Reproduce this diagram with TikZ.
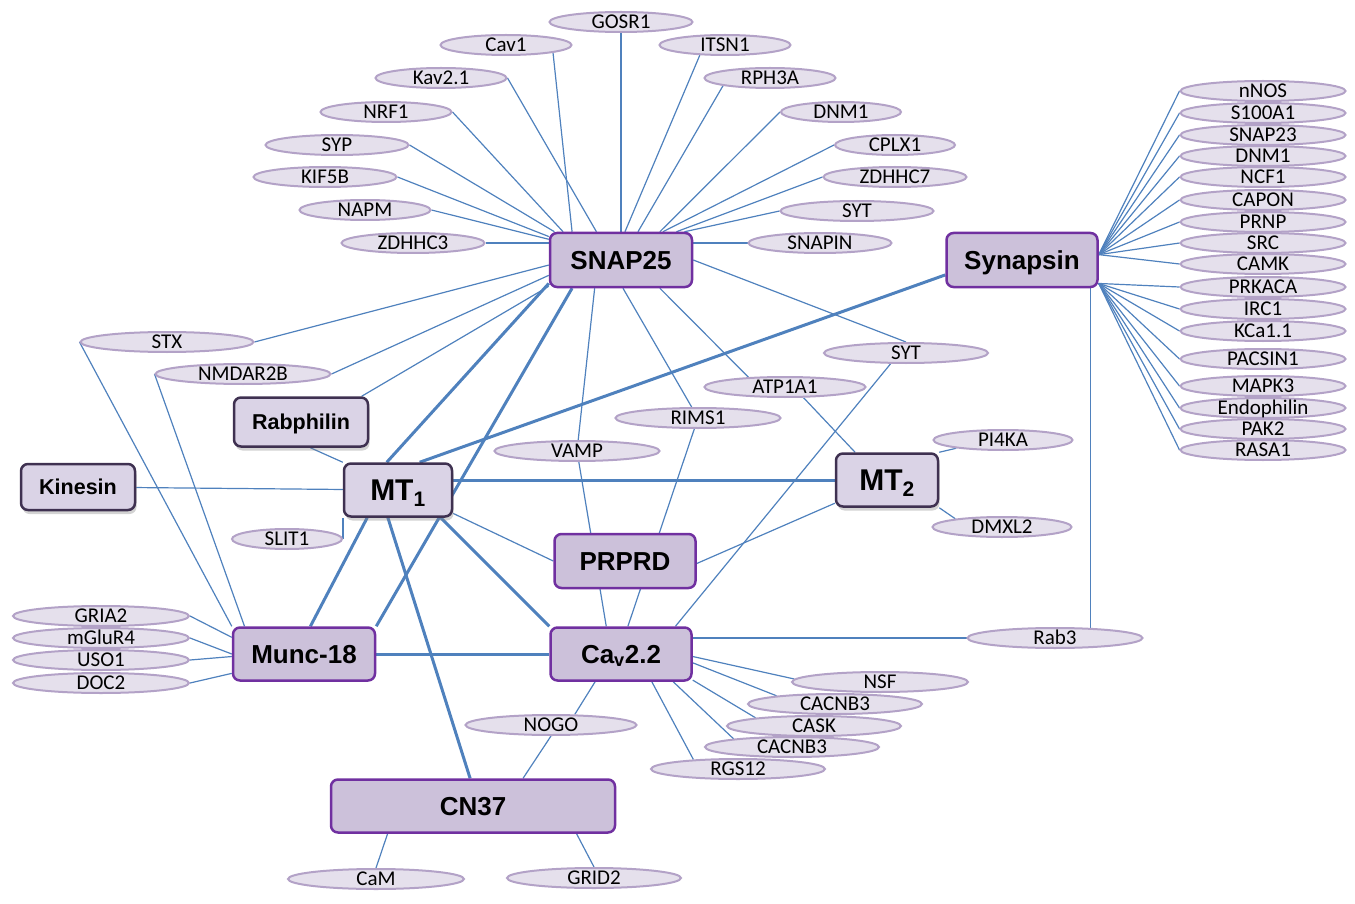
\documentclass[tikz,border=0pt]{standalone}
\usepackage{fontspec}
\setmainfont{Carlito}
\newfontfamily\arialfont{Liberation Sans}
\usetikzlibrary{shapes.geometric,shadows}

\definecolor{hubfill}{HTML}{CCC1DA}
\definecolor{hubline}{HTML}{7030A0}
\definecolor{darkfill}{HTML}{DAD3E6}
\definecolor{darkline}{HTML}{3F3151}
\definecolor{genefill}{HTML}{E5E0EC}
\definecolor{geneline}{HTML}{B3A2C7}
\definecolor{linkblue}{HTML}{4F81BD}

\pgfdeclarelayer{background}
\pgfsetlayers{background,main}

\begin{document}
\begin{tikzpicture}[
      x=1pt, y=-1pt,
      gene/.style={ellipse, draw=geneline, line width=2pt, fill=genefill,
                   inner sep=0pt, minimum height=20pt, text height=13.5pt,
                   text depth=0pt, font=\fontsize{21}{24}\selectfont},
      hub/.style={draw=hubline, line width=2.5pt, fill=hubfill,
                  rounded corners=7pt, inner sep=0pt, text height=18.5pt,
                  text depth=0pt, font=\arialfont\bfseries\fontsize{26}{30}\selectfont},
      darkhub/.style={hub, draw=darkline, fill=darkfill,
                  drop shadow={opacity=0.35, shadow xshift=1.5pt, shadow yshift=-4pt}},
      small/.style={text height=15.4pt, font=\arialfont\bfseries\fontsize{21.5}{25}\selectfont},
      big/.style={text height=21.5pt, font=\arialfont\bfseries\fontsize{30}{34}\selectfont},
      link/.style={draw=linkblue, line width=1.2pt},
      strong/.style={draw=linkblue, line width=3pt}
    ]
    \useasboundingbox (0,0) rectangle (1355,904);

    % main proteins
    \node[hub, minimum width=142pt, minimum height=54pt] (snap) at (621,260) {SNAP25};
    \node[hub, minimum width=151pt, minimum height=54pt] (syn)  at (1022,260) {Synapsin};
    \node[darkhub, small, minimum width=134pt, minimum height=49pt] (rab) at (301,422) {Rabphilin};
    \node[darkhub, small, minimum width=114pt, minimum height=46pt] (kin) at (78,487) {Kinesin};
    \node[darkhub, big, minimum width=108pt, minimum height=53pt] (mt1) at (398,490) {MT\textsubscript{1}};
    \node[darkhub, big, minimum width=102pt, minimum height=53pt] (mt2) at (887,480) {MT\textsubscript{2}};
    \node[hub, minimum width=141pt, minimum height=54pt] (prp)  at (625,561) {PRPRD};
    \node[hub, minimum width=142pt, minimum height=53pt] (munc) at (304,654) {Munc-18};
    \node[hub, minimum width=141pt, minimum height=53pt] (cav)  at (621,654) {Ca\textsubscript{v}2.2};
    \node[hub, minimum width=284pt, minimum height=53pt] (cn)   at (473,806) {CN37};

    % SNAP25 partners
    \node[gene, minimum width=143pt] (gosr)   at (621,22)  {GOSR1};
    \node[gene, minimum width=131pt] (cav1)   at (506,45)  {Cav1};
    \node[gene, minimum width=131pt] (itsn)   at (725,45)  {ITSN1};
    \node[gene, minimum width=131pt] (kav)    at (441,78)  {Kav2.1};
    \node[gene, minimum width=131pt] (rph)    at (770,78)  {RPH3A};
    \node[gene, minimum width=131pt] (nrf)    at (386,112) {NRF1};
    \node[gene, minimum width=120pt] (dnm)    at (841,112) {DNM1};
    \node[gene, minimum width=143pt] (syp)    at (337,145) {SYP};
    \node[gene, minimum width=120pt] (cplx)   at (895,145) {CPLX1};
    \node[gene, minimum width=143pt] (kif)    at (325,177) {KIF5B};
    \node[gene, minimum width=143pt] (zd7)    at (895,177) {ZDHHC7};
    \node[gene, minimum width=131pt] (napm)   at (365,210) {NAPM};
    \node[gene, minimum width=153pt] (syt)    at (857,211) {SYT};
    \node[gene, minimum width=143pt] (zd3)    at (413,243) {ZDHHC3};
    \node[gene, minimum width=143pt] (snapin) at (820,243) {SNAPIN};

    % middle partners
    \node[gene, minimum width=173pt] (stx)   at (167,342) {STX};
    \node[gene, minimum width=175pt] (nmdar) at (243,374) {NMDAR2B};
    \node[gene, minimum width=110pt] (slit)  at (287,539) {SLIT1};
    \node[gene, minimum width=165pt] (vamp)  at (577,451) {VAMP};
    \node[gene, minimum width=165pt] (rims)  at (698,418) {RIMS1};
    \node[gene, minimum width=161pt] (atp)   at (785,387) {ATP1A1};
    \node[gene, minimum width=164pt] (syt2)  at (906,353) {SYT};
    \node[gene, minimum width=139pt] (pi4)   at (1003,440) {PI4KA};
    \node[gene, minimum width=139pt] (dmx)   at (1002,527) {DMXL2};
    \node[gene, minimum width=175pt] (rab3)  at (1055,638) {Rab3};

    % Munc-18 partners
    \node[gene, minimum width=176pt] (gria) at (101,616) {GRIA2};
    \node[gene, minimum width=176pt] (mglu) at (101,638) {mGluR4};
    \node[gene, minimum width=176pt] (uso)  at (101,660) {USO1};
    \node[gene, minimum width=176pt] (doc)  at (101,683) {DOC2};

    % Cav2.2 and CN37 partners
    \node[gene, minimum width=176pt] (nsf)    at (880,682) {NSF};
    \node[gene, minimum width=174pt] (cacnba) at (835,704) {CACNB3};
    \node[gene, minimum width=174pt] (cask)   at (814,726) {CASK};
    \node[gene, minimum width=174pt] (cacnbb) at (792,747) {CACNB3};
    \node[gene, minimum width=174pt] (rgs)    at (738,769) {RGS12};
    \node[gene, minimum width=171pt] (nogo)   at (551,725) {NOGO};
    \node[gene, minimum width=176pt] (cam)    at (376,879) {CaM};
    \node[gene, minimum width=174pt] (grid)   at (594,878) {GRID2};

    % Synapsin partners
    \node[gene, minimum width=165pt] (nnos)   at (1263,91)  {nNOS};
    \node[gene, minimum width=165pt] (s100)   at (1263,113) {S100A1};
    \node[gene, minimum width=165pt] (snap23) at (1263,135) {SNAP23};
    \node[gene, minimum width=165pt] (dnmb)   at (1263,156) {DNM1};
    \node[gene, minimum width=165pt] (ncf)    at (1263,177) {NCF1};
    \node[gene, minimum width=165pt] (capon)  at (1263,200) {CAPON};
    \node[gene, minimum width=165pt] (prnp)   at (1263,222) {PRNP};
    \node[gene, minimum width=165pt] (src)    at (1263,243) {SRC};
    \node[gene, minimum width=165pt] (camk)   at (1263,264) {CAMK};
    \node[gene, minimum width=165pt] (prk)    at (1263,287) {PRKACA};
    \node[gene, minimum width=165pt] (irc)    at (1263,309) {IRC1};
    \node[gene, minimum width=165pt] (kca)    at (1263,331) {KCa1.1};
    \node[gene, minimum width=165pt] (pacsin) at (1263,359) {PACSIN1};
    \node[gene, minimum width=165pt] (mapk)   at (1263,386) {MAPK3};
    \node[gene, minimum width=165pt] (endo)   at (1263,408) {Endophilin};
    \node[gene, minimum width=165pt] (pak)    at (1263,429) {PAK2};
    \node[gene, minimum width=165pt] (rasa)   at (1263,450) {RASA1};

    \begin{pgfonlayer}{background}
    % SNAP25 links
    \draw[link] (gosr) -- (snap);
    \draw[link] (cav1.south east) -- (snap.150);
    \draw[link] (kav.east) -- (snap.131);
    \draw[link] (nrf.east) -- (snap.154);
    \draw[link] (syp.east) -- (snap.157);
    \draw[link] (kif.east) -- (snap.162);
    \draw[link] (napm.east) -- (snap.164);
    \draw[link] (zd3.east) -- (zd3.east -| snap.west);
    \draw[link] (itsn.202) -- (snap.82);
    \draw[link] (rph.south west) -- (snap.59);
    \draw[link] (dnm.west) -- (snap.36);
    \draw[link] (cplx.west) -- (snap.34);
    \draw[link] (zd7.west) -- (snap.27);
    \draw[link] (syt.west) -- (snap.24);
    \draw[link] (snapin.west) -- (snapin.west -| snap.east);
    \draw[link] (stx.east) -- (snap.184);
    \draw[link] (nmdar.east) -- (snap.192);
    \draw[link] (rab.23) -- (snap.200);
    \draw[link] (snap.227) -- (vamp);
    \draw[link] (snap.274) -- (rims);
    \draw[link] (snap.324) -- (atp.165);
    \draw[link] (snap.east) -- (syt2.north);
    \draw[strong] (mt1.112) -- (snap.198);
    \draw[strong] (munc.21) -- (snap.210);

    % MT1 links
    \draw[strong] (mt1.52) -- (syn.191);
    \draw[strong] (mt1.east |- mt2.west) -- (mt2.west);
    \draw[strong] (mt1.222) -- (munc.77);
    \draw[strong] (mt1.250) -- (cn.96);
    \draw[strong] (mt1.-33) -- (cav.north west);
    \draw[link] (kin) -- (mt1);
    \draw[link] (rab.290) -- (mt1.north west);
    \draw[link] (slit.east) -- (slit.east |- mt1.south);
    \draw[link] (mt1.-23) -- (prp.west);

    % MT2 links
    \draw[link] (atp.-30) -- (mt2.139);
    \draw[link] (prp.-2) -- (mt2.204);
    \draw[link] (mt2.north east) -- (pi4.190);
    \draw[link] (mt2.south east) -- (dmx.170);

    % Munc-18 links
    \draw[strong] (munc) -- (cav);
    \draw[link] (stx.west) -- (munc.north west);
    \draw[link] (nmdar.west) -- (munc.155);
    \draw[link] (gria.east) -- (munc.167);
    \draw[link] (mglu.east) -- (munc.180);
    \draw[link] (uso.east) -- (munc.182);
    \draw[link] (doc.east) -- (munc.195);

    % Cav2.2 links
    \draw[link] (vamp) -- (cav.118);
    \draw[link] (rims) -- (cav.76);
    \draw[link] (syt2.215) -- (cav.27);
    \draw[link] (rab3.west -| cav.east) -- (rab3.west);
    \draw[link] (cav.-2) -- (nsf.178);
    \draw[link] (cav.-7) -- (cacnba.172);
    \draw[link] (cav.-20) -- (cask.172);
    \draw[link] (cav.-28) -- (cacnbb.172);
    \draw[link] (cav.-42) -- (rgs.168);
    \draw[link] (cav.227) -- (nogo.24);

    % CN37 links
    \draw[link] (nogo.south) -- (cn.29);
    \draw[link] (cn.198) -- (cam.north);
    \draw[link] (cn.-15) -- (grid.north);

    % Synapsin links
    \draw[link] (rab3.16) -- (rab3.16 |- syn.south);
    \draw[link] (syn.4) -- (nnos.west);
    \draw[link] (syn.4) -- (s100.west);
    \draw[link] (syn.4) -- (snap23.west);
    \draw[link] (syn.4) -- (dnmb.west);
    \draw[link] (syn.4) -- (ncf.west);
    \draw[link] (syn.4) -- (capon.west);
    \draw[link] (syn.4) -- (prnp.west);
    \draw[link] (syn.4) -- (src.west);
    \draw[link] (syn.4) -- (camk.west);
    \draw[link] (syn.-17) -- (prk.west);
    \draw[link] (syn.-17) -- (irc.west);
    \draw[link] (syn.-17) -- (kca.west);
    \draw[link] (syn.-17) -- (pacsin.west);
    \draw[link] (syn.-17) -- (mapk.west);
    \draw[link] (syn.-17) -- (endo.west);
    \draw[link] (syn.-17) -- (pak.west);
    \draw[link] (syn.-17) -- (rasa.west);
    \end{pgfonlayer}
  \end{tikzpicture}
\end{document}
